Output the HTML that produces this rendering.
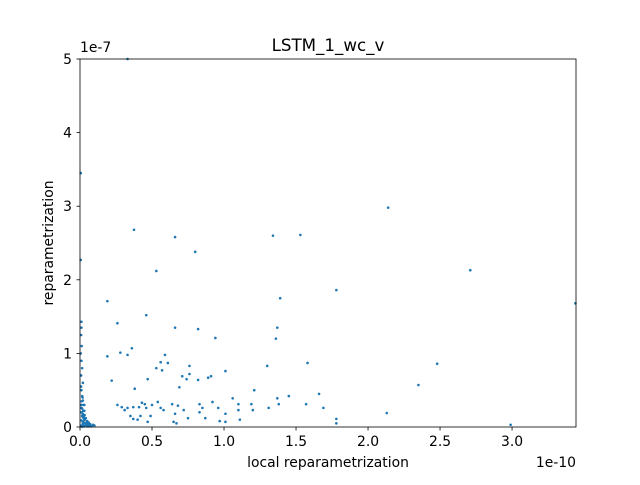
<!DOCTYPE html>
<html><head><meta charset="utf-8"><style>
body{margin:0;background:#fff;font-family:"Liberation Sans","DejaVu Sans",sans-serif;}
svg text{font-family:"DejaVu Sans","Liberation Sans",sans-serif;font-size:13.9px;fill:#000}
</style></head><body>
<svg id="chart" width="640" height="480" xmlns="http://www.w3.org/2000/svg">
<rect width="640" height="480" fill="#fff"/>
<text x="328" y="51" text-anchor="middle" style="font-size:16.7px">LSTM_1_wc_v</text>
<text x="328" y="467" text-anchor="middle">local reparametrization</text>
<text x="53" y="243" text-anchor="middle" transform="rotate(-90 53 243)">reparametrization</text>
<text x="80" y="52">1e-7</text>
<text x="576" y="467" text-anchor="end">1e-10</text>
<g id="pts"></g>
<g id="ticks"></g>
<rect x="80" y="59" width="496" height="368" fill="none" stroke="#000" stroke-width="0.8"/>
</svg>
<script>
const xVals=[0.33,2.14,0.375,0.66,1.53,1.34,0.80,2.71,0.53,1.78,1.39,0.19,0.46,0.26,0.66,0.82,1.37,0.94,1.36,0.36,0.59,0.33,0.28,0.19,0.56,0.61,0.76,1.58,0.53,0.57,0.76,0.71,1.01,1.30,2.48,0.89,0.22,0.82,0.91,0.74,0.47,1.21,0.38,2.35,0.69,1.06,1.66,1.45,0.43,0.45,0.64,0.54,0.83,0.92,0.41,0.37,0.33,0.31,0.26,0.29,0.46,0.56,0.68,0.85,0.96,1.10,1.10,1.19,1.37,1.38,1.57,1.69,1.31,1.20,0.72,0.66,0.83,1.01,0.87,0.75,0.49,0.35,0.37,0.40,0.42,0.47,0.50,0.58,0.65,0.67,0.97,1.11,1.01,1.78,1.78,2.13,2.99,3.44,0.03,
0.005,0.005,0.01,0.01,0.008,0.012,0.005,0.01,0.015,0.008,0.02,0.01,0.015,0.02,0.025,0.01,0.03,0.02,0.015,0.04,0.03,0.05,0.06,0.02,0.07,0.09,0.1,0.01,0.03,0.05,0.015,
0.01,0.02,0.03,0.04,0.05,0.06,0.08,0.01,0.02,0.03,0.04,0.05,0.02,0.03,0.01,0.02,0.01,0.015,0.025,0.035,0.045,0.055,0.065,0.075,0.012,0.022,0.032,0.018,0.028,0.008];
const yVals=[5.0,2.98,2.68,2.58,2.61,2.60,2.38,2.13,2.12,1.86,1.75,1.71,1.52,1.41,1.35,1.33,1.35,1.21,1.20,1.07,0.98,0.98,1.01,0.96,0.88,0.87,0.83,0.87,0.80,0.77,0.72,0.69,0.76,0.83,0.86,0.67,0.63,0.64,0.69,0.65,0.65,0.50,0.52,0.57,0.54,0.39,0.45,0.42,0.33,0.31,0.31,0.34,0.31,0.34,0.27,0.27,0.26,0.23,0.30,0.27,0.26,0.26,0.29,0.26,0.26,0.31,0.23,0.31,0.39,0.31,0.31,0.26,0.26,0.23,0.23,0.18,0.20,0.18,0.12,0.12,0.15,0.15,0.11,0.10,0.15,0.07,0.30,0.23,0.07,0.05,0.08,0.10,0.07,0.11,0.05,0.19,0.03,1.68,0.30,
3.45,2.27,1.43,1.35,1.25,1.10,1.0,0.9,0.8,0.7,0.6,0.5,0.42,0.36,0.3,0.26,0.22,0.18,0.15,0.12,0.1,0.08,0.06,0.05,0.04,0.03,0.02,0.02,0.01,0.01,0.005,
0.01,0.02,0.01,0.03,0.02,0.01,0.01,0.09,0.07,0.05,0.04,0.03,0.13,0.09,0.2,0.17,0.3,0.25,0.14,0.11,0.06,0.04,0.02,0.015,0.35,0.22,0.16,0.4,0.12,0.55];
const xTicks=[0,0.5,1.0,1.5,2.0,2.5,3.0];
const xTickLabels=["0.0","0.5","1.0","1.5","2.0","2.5","3.0"];
const yTicks=[0,1,2,3,4,5];
const yTickLabels=["0","1","2","3","4","5"];
const X0=80,X1=576,Y0=427,Y1=59,XMAX=3.444,YMAX=5;
const sx=v=>X0+v/XMAX*(X1-X0), sy=v=>Y0-v/YMAX*(Y0-Y1);
const NS="http://www.w3.org/2000/svg";
const pts=document.getElementById('pts'), tk=document.getElementById('ticks');
xVals.forEach((x,i)=>{const c=document.createElementNS(NS,'circle');
c.setAttribute('cx',sx(x));c.setAttribute('cy',sy(yVals[i]));c.setAttribute('r',1.3);c.setAttribute('fill','#1f77b4');


pts.appendChild(c);});
xTicks.forEach((v,i)=>{const l=document.createElementNS(NS,'line');const x=sx(v);
l.setAttribute('x1',x);l.setAttribute('x2',x);l.setAttribute('y1',427);l.setAttribute('y2',430.5);l.setAttribute('stroke','#000');l.setAttribute('stroke-width','0.8');


tk.appendChild(l);
const t=document.createElementNS(NS,'text');t.setAttribute('x',x);t.setAttribute('y',446);t.setAttribute('text-anchor','middle');t.textContent=xTickLabels[i];


tk.appendChild(t);});
yTicks.forEach((v,i)=>{const l=document.createElementNS(NS,'line');const y=sy(v);
l.setAttribute('x1',76.5);l.setAttribute('x2',80);l.setAttribute('y1',y);l.setAttribute('y2',y);l.setAttribute('stroke','#000');l.setAttribute('stroke-width','0.8');


tk.appendChild(l);
const t=document.createElementNS(NS,'text');t.setAttribute('x',72);t.setAttribute('y',y+5);t.setAttribute('text-anchor','end');t.textContent=yTickLabels[i];


tk.appendChild(t);});
</script>
</body></html>
